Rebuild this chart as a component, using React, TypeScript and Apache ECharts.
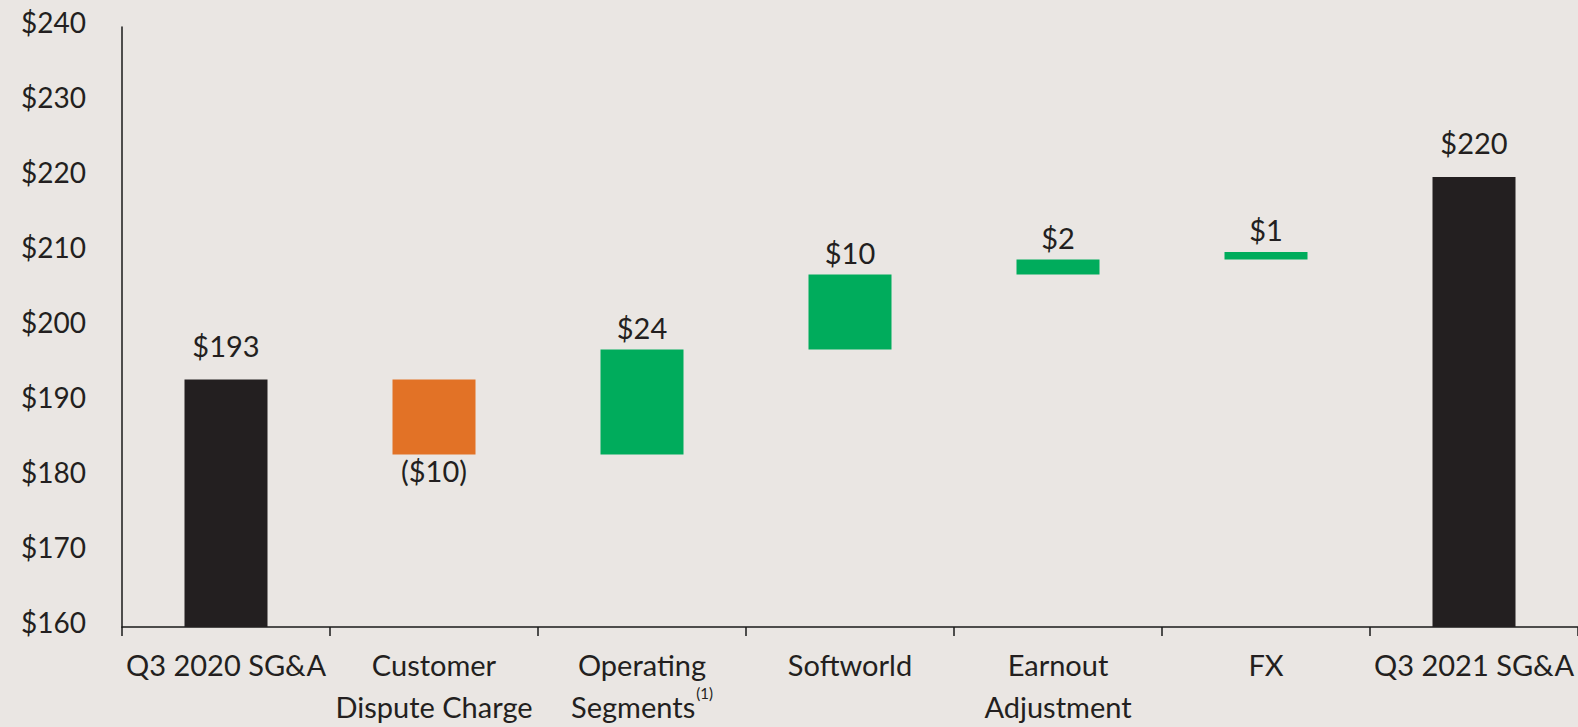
import React, { useEffect, useRef } from "react";
import * as echarts from "echarts";

const categories = [
  "Q3 2020 SG&A",
  "Customer\nDispute Charge",
  "Operating\nSegments",
  "Softworld",
  "Earnout\nAdjustment",
  "FX",
  "Q3 2021 SG&A",
];
const footnoteCategory = 2;
const barLow = [160, 183, 183, 197, 207, 209, 160];
const barHigh = [193, 193, 197, 207, 209, 210, 220];
const valueLabels = ["$193", "($10)", "$24", "$10", "$2", "$1", "$220"];
const barKinds = ["total", "decrease", "increase", "increase", "increase", "increase", "total"];
const yTicks = { min: 160, max: 240, step: 10 };

const COLORS: Record<string, string> = {
  total: "#231F20",
  decrease: "#E27226",
  increase: "#00AC5C",
};
const BG = "#EAE6E3";
const FONT = "Lato";

export default function App() {
  const ref = useRef<HTMLDivElement>(null);
  useEffect(() => {
    document.body.style.margin = "0";
    document.body.style.background = BG;
    const chart = echarts.init(ref.current!, null, { renderer: "svg", width: 1578, height: 727 });
    const visible = barHigh.map((h, i) => {
      const kind = barKinds[i];
      return {
        value: h - barLow[i],
        itemStyle: { color: COLORS[kind] },
        label: {
          show: true,
          position: kind === "decrease" ? "bottom" : "top",
          distance: kind === "total" ? 20 : kind === "decrease" ? 1 : 8,
        },
      };
    });
    chart.setOption({
      animation: false,
      backgroundColor: BG,
      grid: { left: 122, right: 0, top: 27, bottom: 96, containLabel: false },
      xAxis: {
        type: "category",
        data: categories,
        boundaryGap: true,
        axisLine: { show: true, lineStyle: { color: "#1A1A1A", width: 1.5 } },
        axisTick: { show: true, alignWithLabel: false, length: 9, lineStyle: { color: "#1A1A1A", width: 1.5 } },
        axisLabel: {
          interval: 0,
          margin: 16,
          fontFamily: FONT,
          fontSize: 29,
          lineHeight: 42,
          color: "#231F20",
          formatter: (v: string, i: number) => (i === footnoteCategory ? v + "{sup|(1)}" : v),
          rich: {
            sup: { fontSize: 15, fontFamily: FONT, color: "#231F20", verticalAlign: "top", lineHeight: 42, padding: [0, 0, 14, 1] },
          },
        },
      },
      yAxis: {
        type: "value",
        min: yTicks.min,
        max: yTicks.max,
        interval: yTicks.step,
        splitLine: { show: false },
        axisLine: { show: true, lineStyle: { color: "#1A1A1A", width: 1.5 } },
        axisTick: { show: false },
        axisLabel: {
          margin: 36,
          fontFamily: FONT,
          fontSize: 28,
          color: "#231F20",
          formatter: (v: number) => "{v|$" + v + "}",
          rich: {
            v: { fontFamily: FONT, fontSize: 28, color: "#231F20", padding: [0, 0, 10, 0] },
          },
        },
      },
      series: [
        {
          type: "bar",
          stack: "wf",
          silent: true,
          itemStyle: { color: "transparent" },
          data: barLow,
          barWidth: 83,
        },
        {
          type: "bar",
          stack: "wf",
          barWidth: 83,
          data: visible,
          label: {
            show: true,
            fontFamily: FONT,
            fontSize: 29,
            color: "#231F20",
            formatter: (p: any) => valueLabels[p.dataIndex],
          },
        },
      ],
    });
    return () => chart.dispose();
  }, []);
  return <div ref={ref} style={{ width: 1578, height: 727, background: BG }} />;
}
